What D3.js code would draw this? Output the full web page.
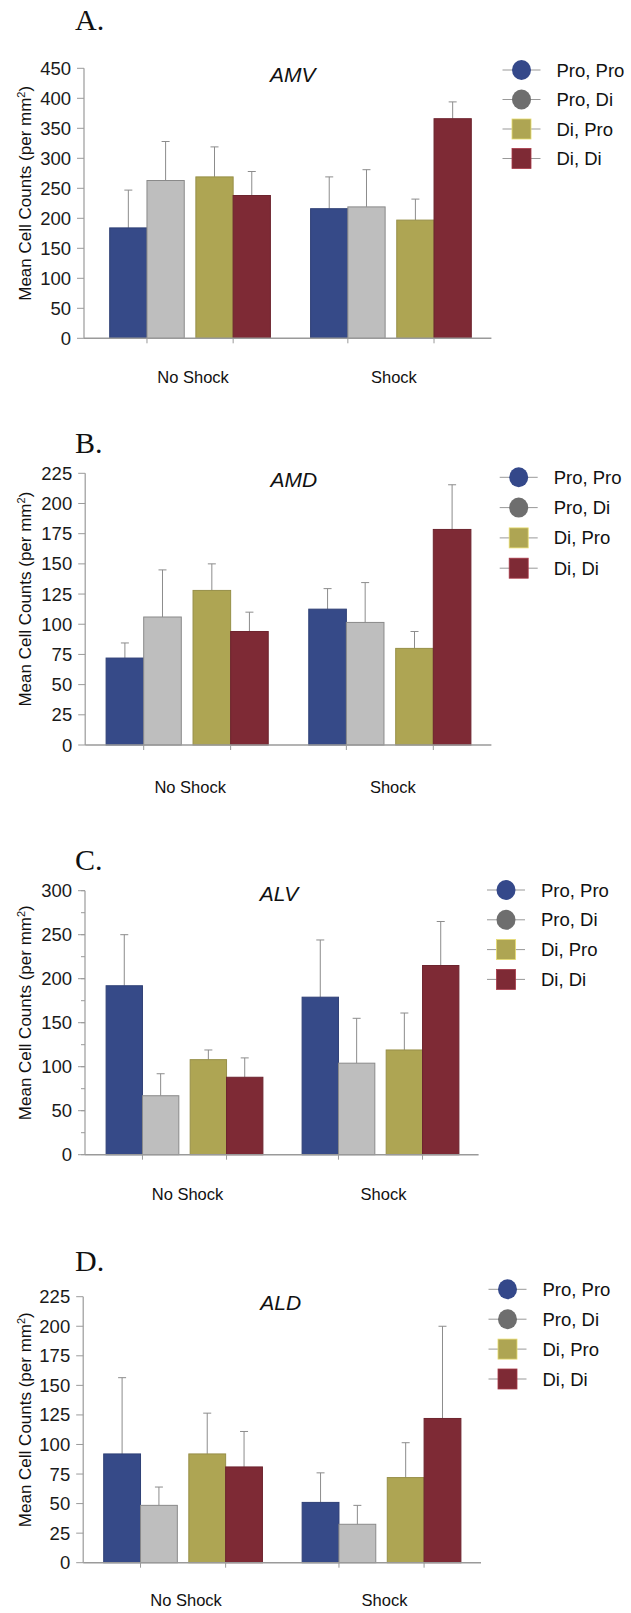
<!DOCTYPE html>
<html>
<head>
<meta charset="utf-8">
<script src="https://cdn.jsdelivr.net/npm/d3@7"></script>
<style>
  html, body { margin: 0; padding: 0; background: #fff; }
  svg { display: block; }
</style>
</head>
<body>
<div id="chart"></div>
<script>
// ---------------- data ----------------
const series = ["Pro, Pro", "Pro, Di", "Di, Pro", "Di, Di"];
const pairs = ["Pro", "Di"];                 // first factor of each series
const conditions = ["No Shock", "Shock"];
const panelLetters = ["A.", "B.", "C.", "D."];
const regions = ["AMV", "AMD", "ALV", "ALD"];

// means [condition][series]
const amvMeans = [[184, 263, 269, 238], [216, 219, 197, 366]];
const amvErr   = [[63, 65, 50, 40],     [53, 62, 35, 28]];
const amdMeans = [[72, 106, 128, 94],   [112.5, 101.5, 80, 178.5]];
const amdErr   = [[12.5, 39, 22, 16],   [17, 33, 14, 37]];
const alvMeans = [[192, 67, 108, 88],   [179, 104, 119, 215]];
const alvErr   = [[58, 25, 11, 22],     [65, 51, 42, 50]];
const aldMeans = [[92, 48.5, 92, 81],   [51, 32.5, 72, 122]];
const aldErr   = [[64.5, 15.5, 34.5, 30], [25, 16, 29.5, 78]];

const yMaxes = [450, 225, 300, 225];
const yTickSteps = [50, 25, 50, 25];
const yMinorSteps = [null, null, 25, null];

const colors = ["#364a88", "#bebebe", "#aea553", "#7e2a35"];
const legendColors = ["#34488a", "#6e6e6e", "#aea553", "#7e2a35"];
const legendShapes = ["circle", "circle", "square", "square"];

// ---------------- layout ----------------
const layouts = [
  {letterY: 30,    top: 68.3,  bottom: 338.3,  axisX: 84,   axisEnd: 491.4, barL: 109.7, barR: 471.3, titleX: 292.7, titleY: 82,   legX: 521.5, legY0: 70,     legDy: 29.5, catY: 383},
  {letterY: 452.5, top: 473.3, bottom: 745,    axisX: 85.2, axisEnd: 491.4, barL: 106.1, barR: 470.9, titleX: 293.9, titleY: 487,  legX: 518.7, legY0: 477.3,  legDy: 30.3, catY: 793},
  {letterY: 870,   top: 890.7, bottom: 1154.7, axisX: 85,   axisEnd: 478.6, barL: 106.1, barR: 458.9, titleX: 279,   titleY: 901,  legX: 506,   legY0: 890,    legDy: 29.8, catY: 1200},
  {letterY: 1270.7,top: 1296.7,bottom: 1562.7, axisX: 83.2, axisEnd: 481,   barL: 103.7, barR: 460.9, titleX: 280.7, titleY: 1310, legX: 507.5, legY0: 1289.3, legDy: 29.9, catY: 1606}
];

const panelMeans = [amvMeans, amdMeans, alvMeans, aldMeans];
const panelErrs = [amvErr, amdErr, alvErr, aldErr];

const W = 631, H = 1613;
const svg = d3.select("#chart").append("svg")
  .attr("width", W).attr("height", H)
  .attr("viewBox", `0 0 ${W} ${H}`);
svg.append("rect").attr("width", W).attr("height", H).attr("fill", "#fff");

const sans = "'Liberation Sans', Arial, Helvetica, sans-serif";
const axisColor = "#9a9a9a";

panelLetters.forEach((letter, pi) => {
  const L = layouts[pi];
  const means = panelMeans[pi];
  const errs = panelErrs[pi];
  const g = svg.append("g");

  // scales
  const y = d3.scaleLinear().domain([0, yMaxes[pi]]).range([L.bottom, L.top]);
  const xGroup = d3.scaleBand().domain(conditions).range([L.barL, L.barR]).paddingInner(0.2).paddingOuter(0);
  const xPair = d3.scaleBand().domain(pairs).range([0, xGroup.bandwidth()]).paddingInner(0.135).paddingOuter(0);
  const xBar = d3.scaleBand().domain([0, 1]).range([0, xPair.bandwidth()]).padding(0);
  const barX = (ci, si) => xGroup(conditions[ci]) + xPair(pairs[Math.floor(si / 2)]) + xBar(si % 2);

  // panel letter
  g.append("text")
    .attr("x", 75).attr("y", L.letterY)
    .attr("font-family", "'Liberation Serif', 'Times New Roman', serif")
    .attr("font-size", 30).attr("fill", "#111")
    .text(letter);

  const rows = [];
  conditions.forEach((c, ci) => series.forEach((s, si) => rows.push({ci, si, v: means[ci][si], e: errs[ci][si]})));

  // error bars (upper only)
  const eg = g.append("g").attr("stroke", "#8c8c8c").attr("stroke-width", 1).attr("fill", "none");
  rows.forEach(d => {
    const cx = barX(d.ci, d.si) + xBar.bandwidth() / 2;
    eg.append("line").attr("x1", cx).attr("x2", cx).attr("y1", y(d.v)).attr("y2", y(d.v + d.e));
    eg.append("line").attr("x1", cx - 4).attr("x2", cx + 4).attr("y1", y(d.v + d.e)).attr("y2", y(d.v + d.e));
  });

  // bars
  g.append("g").selectAll("rect").data(rows).join("rect")
    .attr("x", d => barX(d.ci, d.si))
    .attr("y", d => y(d.v))
    .attr("width", xBar.bandwidth())
    .attr("height", d => y(0) - y(d.v))
    .attr("fill", d => colors[d.si])
    .attr("stroke", d => d.si === 1 ? "#8a8a8a" : d3.color(colors[d.si]).darker(0.4))
    .attr("stroke-width", 1);

  // y axis
  const yTicks = d3.range(0, yMaxes[pi] + 0.001, yTickSteps[pi]);
  const ya = g.append("g");
  ya.append("line").attr("x1", L.axisX).attr("x2", L.axisX).attr("y1", L.top).attr("y2", L.bottom)
    .attr("stroke", axisColor).attr("stroke-width", 1.2);
  if (yMinorSteps[pi]) {
    d3.range(0, yMaxes[pi] + 0.001, yMinorSteps[pi]).forEach(t => {
      ya.append("line").attr("x1", L.axisX - 4).attr("x2", L.axisX).attr("y1", y(t)).attr("y2", y(t))
        .attr("stroke", axisColor).attr("stroke-width", 1);
    });
  }
  yTicks.forEach(t => {
    ya.append("line").attr("x1", L.axisX - 7).attr("x2", L.axisX).attr("y1", y(t)).attr("y2", y(t))
      .attr("stroke", axisColor).attr("stroke-width", 1);
    ya.append("text").attr("x", L.axisX - 13).attr("y", y(t) + 6.5)
      .attr("text-anchor", "end").attr("font-family", sans).attr("font-size", 18.5).attr("fill", "#1a1a1a")
      .text(t);
  });

  // x axis
  g.append("line").attr("x1", L.axisX).attr("x2", L.axisEnd).attr("y1", L.bottom).attr("y2", L.bottom)
    .attr("stroke", axisColor).attr("stroke-width", 1.5);
  conditions.forEach(c => pairs.forEach(p => {
    const tx = xGroup(c) + xPair(p) + xPair.bandwidth() / 2;
    g.append("line").attr("x1", tx).attr("x2", tx).attr("y1", L.bottom).attr("y2", L.bottom + 5)
      .attr("stroke", axisColor).attr("stroke-width", 1);
  }));
  conditions.forEach(c => {
    g.append("text").attr("x", xGroup(c) + xGroup.bandwidth() / 2 + 3).attr("y", L.catY)
      .attr("text-anchor", "middle").attr("font-family", sans).attr("font-size", 16.5).attr("fill", "#111")
      .text(c);
  });

  // y axis title
  const ym = (L.top + L.bottom) / 2 - 10;
  const yt = g.append("text")
    .attr("transform", `translate(31,${ym}) rotate(-90)`)
    .attr("text-anchor", "middle").attr("font-family", sans).attr("font-size", 17).attr("fill", "#111");
  yt.append("tspan").text("Mean Cell Counts (per mm");
  yt.append("tspan").attr("font-size", 11).attr("dy", -6).text("2");
  yt.append("tspan").attr("dy", 6).text(")");

  // panel title
  g.append("text").attr("x", L.titleX).attr("y", L.titleY)
    .attr("text-anchor", "middle").attr("font-family", sans).attr("font-style", "italic")
    .attr("font-size", 21).attr("fill", "#111")
    .text(regions[pi]);

  // legend
  series.forEach((s, si) => {
    const cy = L.legY0 + si * L.legDy;
    g.append("line").attr("x1", L.legX - 19).attr("x2", L.legX + 19).attr("y1", cy).attr("y2", cy)
      .attr("stroke", "#999").attr("stroke-width", 1);
    if (legendShapes[si] === "circle") {
      g.append("ellipse").attr("cx", L.legX).attr("cy", cy).attr("rx", 9.5).attr("ry", 10)
        .attr("fill", legendColors[si]);
    } else {
      g.append("rect").attr("x", L.legX - 9.5).attr("y", cy - 10).attr("width", 19).attr("height", 20)
        .attr("fill", legendColors[si]).attr("stroke", d3.color(legendColors[si]).brighter(0.8)).attr("stroke-width", 0.8);
    }
    g.append("text").attr("x", L.legX + 35).attr("y", cy + 6.5)
      .attr("font-family", sans).attr("font-size", 18.5).attr("fill", "#111")
      .text(s);
  });
});
</script>
</body>
</html>
